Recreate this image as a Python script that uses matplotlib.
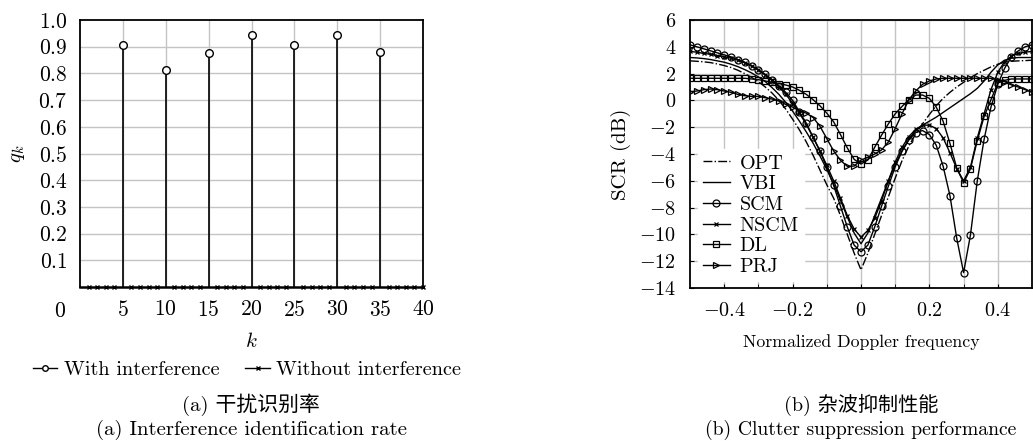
import matplotlib

matplotlib.use("Agg")
import matplotlib.pyplot as plt
from matplotlib.lines import Line2D

# ---- panel (a): interference identification rate ----
k_with = [5, 10, 15, 20, 25, 30, 35]
q_with = [0.905, 0.812, 0.875, 0.945, 0.908, 0.942, 0.882]
k_without = [k for k in range(1, 41) if k not in k_with]
q_without = [0.0] * len(k_without)
a_xticks = [5, 10, 15, 20, 25, 30, 35, 40]
a_yticks = [0.1, 0.2, 0.3, 0.4, 0.5, 0.6, 0.7, 0.8, 0.9, 1.0]

# ---- panel (b): clutter suppression, normalized Doppler -0.5..0.5 step 0.02 ----
fd = [round(-0.5 + 0.02 * i, 2) for i in range(51)]
opt = [2.95, 2.92, 2.88, 2.82, 2.72, 2.6, 2.45, 2.25, 2.0, 1.72,
       1.4, 1.0, 0.55, 0.0, -0.65, -1.4, -2.2, -3.1, -4.1, -5.2,
       -6.3, -7.3, -8.6, -10.0, -11.4, -12.65, -11.4, -10.0, -8.6, -7.2,
       -5.8, -4.5, -3.4, -2.5, -1.75, -1.05, -0.4, 0.15, 0.6, 1.0,
       1.35, 1.7, 2.0, 2.25, 2.5, 2.7, 2.85, 2.92, 2.95, 2.97, 3.0]
vbi = [3.2, 3.17, 3.12, 3.05, 2.95, 2.85, 2.7, 2.52, 2.3, 2.05,
       1.75, 1.4, 0.95, 0.45, -0.15, -0.8, -1.55, -2.35, -3.2, -4.15,
       -5.15, -6.25, -7.45, -8.7, -9.9, -10.7, -9.9, -8.6, -7.3, -6.0,
       -4.8, -3.75, -2.9, -2.25, -1.85, -1.55, -1.25, -0.9, -0.55, -0.2,
       0.15, 0.5, 0.9, 1.45, 2.1, 2.65, 3.0, 3.15, 3.2, 3.2, 3.2]
scm = [4.15, 4.0, 3.85, 3.7, 3.55, 3.4, 3.25, 3.05, 2.85, 2.6,
       2.3, 1.95, 1.55, 1.1, 0.6, 0.0, -0.85, -1.7, -2.75, -3.8,
       -5.0, -6.35, -7.9, -9.45, -10.8, -11.3, -10.8, -9.45, -7.9, -6.4,
       -4.95, -3.8, -2.95, -2.4, -2.25, -2.55, -3.35, -4.9, -7.1, -10.3,
       -12.85, -10.05, -6.0, -2.9, -0.5, 1.2, 2.4, 3.25, 3.7, 4.0, 4.15]
nscm = [3.65, 3.6, 3.5, 3.45, 3.35, 3.25, 3.15, 3.0, 2.8, 2.55,
        2.25, 1.9, 1.5, 1.0, 0.45, -0.2, -0.95, -1.8, -2.75, -3.75,
        -4.85, -6.0, -7.3, -8.6, -9.6, -10.2, -9.7, -8.8, -7.5, -6.0,
        -4.6, -3.5, -2.7, -2.15, -1.85, -1.85, -2.1, -2.8, -3.9, -5.1,
        -6.0, -5.0, -2.8, -1.0, 0.8, 2.1, 2.9, 3.3, 3.5, 3.6, 3.65]
dl = [1.65, 1.65, 1.65, 1.65, 1.65, 1.65, 1.65, 1.65, 1.65, 1.6,
      1.55, 1.45, 1.35, 1.25, 1.15, 1.0, 0.75, 0.45, 0.05, -0.4,
      -0.95, -1.6, -2.55, -3.55, -4.4, -4.75, -4.45, -3.5, -2.6, -1.75,
      -1.0, -0.45, 0.05, 0.4, 0.4, 0.15, -0.5, -1.55, -3.2, -5.05,
      -6.15, -5.1, -3.0, -1.2, 0.05, 1.3, 1.5, 1.6, 1.6, 1.6, 1.6]
prj = [0.65, 0.7, 0.8, 0.85, 0.8, 0.7, 0.6, 0.45, 0.35, 0.3,
       0.3, 0.2, 0.1, -0.05, -0.3, -0.5, -0.78, -0.95, -1.28, -1.93,
       -2.85, -3.77, -4.47, -4.92, -4.9, -4.45, -4.25, -4.0, -3.7, -3.1,
       -2.1, -1.0, 0.05, 0.7, 1.2, 1.45, 1.6, 1.65, 1.65, 1.65,
       1.65, 1.65, 1.65, 1.65, 1.65, 1.55, 1.4, 1.15, 1.0, 0.8, 0.6]
b_xticks = [-0.4, -0.2, 0.0, 0.2, 0.4]
b_xticklabels = ["$-0.4$", "$-0.2$", "$0$", "$0.2$", "$0.4$"]
b_yticks = list(range(-14, 7, 2))

plt.rcParams["font.family"] = ["cmr10", "Noto Sans CJK SC"]
plt.rcParams["mathtext.fontset"] = "cm"
plt.rcParams["axes.formatter.use_mathtext"] = True
plt.rcParams["font.size"] = 13

W, H = 1033, 443
fig = plt.figure(figsize=(W / 100, H / 100), dpi=100)
grid_kw = dict(color="#c4c4c4", linewidth=1.0)

# ---------- (a) ----------
ax1 = fig.add_axes([80 / W, 1 - 287 / H, 343 / W, 267 / H])
ax1.vlines(k_with, 0, q_with, color="black", linewidth=1.2, zorder=3)
ax1.plot(k_with, q_with, "o", mfc="white", mec="black", ms=5.5, mew=1.0, zorder=4)
ax1.plot(k_without, q_without, "x", color="black", ms=3.5, mew=1.0, zorder=4,
         clip_on=False)
ax1.set_xlim(0, 40)
ax1.set_ylim(0, 1.0)
ax1.set_xticks(a_xticks)
ax1.set_xticklabels([f"${t}$" for t in a_xticks])
ax1.set_yticks(a_yticks)
ax1.set_yticklabels([f"${t:.1f}$" for t in a_yticks])
for t in k_with:
    ax1.axvline(t, zorder=0, **grid_kw)
for t in a_yticks[:-1]:
    ax1.axhline(t, zorder=0, **grid_kw)
ax1.tick_params(length=0, pad=9, labelsize=15.5)
for s in ax1.spines.values():
    s.set_linewidth(1.3)
ax1.spines["bottom"].set_linewidth(1.8)
ax1.text(-2.3, -0.09, "$0$", fontsize=15.5, ha="center", va="center")
ax1.set_xlabel("$k$", fontsize=15, labelpad=9)
ax1.set_ylabel("$q_k$", fontsize=15, labelpad=8)

h_with = Line2D([], [], color="black", lw=1.0, marker="o", ms=4, mfc="white")
h_without = Line2D([], [], color="black", lw=1.0, marker="x", ms=3.5)
fig.legend([h_with, h_without], ["With interference", "Without interference"],
           loc="center", bbox_to_anchor=(247 / W, 1 - 370 / H), ncol=2,
           frameon=False, handlelength=1.2, handletextpad=0.3,
           columnspacing=1.3, fontsize=14.6)

fig.text(251 / W, 1 - 405 / H, "(a) 干扰识别率", ha="center", va="center", fontsize=15)
fig.text(251 / W, 1 - 430 / H, "(a) Interference identification rate",
         ha="center", va="center", fontsize=15)

# ---------- (b) ----------
ax2 = fig.add_axes([690 / W, 1 - 288 / H, 342 / W, 268 / H])
line_kw = dict(color="black", linewidth=1.0, mfc="none", mec="black", mew=0.9)
ax2.plot(fd, opt, linestyle="-.", label="OPT", **line_kw)
ax2.plot(fd, vbi, linestyle="-", label="VBI", **line_kw)
ax2.plot(fd, scm, marker="o", ms=5, label="SCM", **line_kw)
ax2.plot(fd, nscm, marker="x", ms=3.5, label="NSCM", **line_kw)
ax2.plot(fd, dl, marker="s", ms=4, label="DL", **line_kw)
ax2.plot(fd, prj, marker=">", ms=5, label="PRJ", **line_kw)
ax2.set_xlim(-0.5, 0.5)
ax2.set_ylim(-14, 6)
ax2.set_xticks(b_xticks)
ax2.set_xticklabels(b_xticklabels)
ax2.set_xticks([-0.3, -0.1, 0.1, 0.3], minor=True)
ax2.set_yticks(b_yticks)
ax2.set_yticklabels([f"${t}$" for t in b_yticks])
ax2.grid(True, which="both", zorder=0, **grid_kw)
ax2.set_axisbelow(True)
ax2.tick_params(which="both", direction="in", length=3, pad=10, labelsize=14.5)
for s in ax2.spines.values():
    s.set_linewidth(1.3)
ax2.set_xlabel("Normalized Doppler frequency", fontsize=12.8, labelpad=10)
ax2.set_ylabel("SCR (dB)", fontsize=15, labelpad=6)
leg = ax2.legend(loc="lower left", bbox_to_anchor=(-0.005, -0.012), frameon=True,
                 fancybox=False, edgecolor="white", framealpha=1.0,
                 handlelength=1.3, handletextpad=0.5, labelspacing=0.13,
                 borderpad=0.25, fontsize=14.5)
leg.set_zorder(5)

fig.text(861 / W, 1 - 405 / H, "(b) 杂波抑制性能", ha="center", va="center", fontsize=14.5)
fig.text(861 / W, 1 - 430 / H, "(b) Clutter suppression performance",
         ha="center", va="center", fontsize=14.2)

fig.savefig("out.png", dpi=100)
